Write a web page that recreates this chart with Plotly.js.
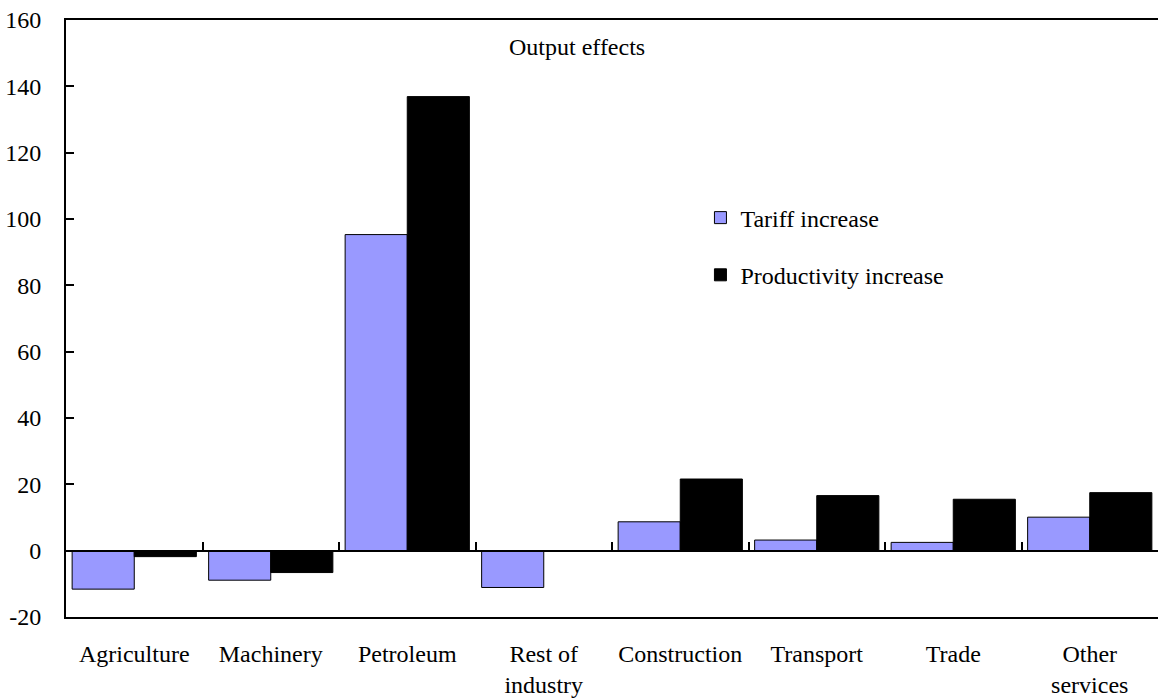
<!DOCTYPE html>
<html>
<head>
<meta charset="utf-8">
<script src="https://cdn.plot.ly/plotly-3.0.1.min.js"></script>
<style>html,body{margin:0;padding:0;background:#fff;}#chart{width:1158px;height:700px;}</style>
</head>
<body>
<div id="chart"></div>
<script>
const categories = ["Agriculture", "Machinery", "Petroleum", "Rest of<br>industry", "Construction", "Transport", "Trade", "Other<br>services"];
const tariffIncrease = [-11.6, -8.9, 95.3, -11.1, 8.7, 3.2, 2.5, 10.1];
const productivityIncrease = [-1.8, -6.6, 136.9, 0, 21.6, 16.6, 15.5, 17.5];
const yTicks = [-20, 0, 20, 40, 60, 80, 100, 120, 140, 160];
const chartTitle = "Output effects";

const FONT = "'Liberation Serif', 'Times New Roman', serif";

const traces = [
  {
    type: "bar", name: "Tariff increase", x: categories, y: tariffIncrease,
    marker: {color: "#9999FF", line: {color: "#000000", width: 1}},
    legendgroup: "a", xaxis: "x", yaxis: "y", hoverinfo: "skip"
  },
  {
    type: "bar", name: "Productivity increase", x: categories, y: productivityIncrease,
    marker: {color: "#000000", line: {color: "#000000", width: 1}},
    legendgroup: "b", xaxis: "x", yaxis: "y", hoverinfo: "skip"
  },
  {
    type: "scatter", mode: "none", x: categories, y: tariffIncrease.map(() => null),
    xaxis: "x2", yaxis: "y", showlegend: false, hoverinfo: "skip"
  }
];

const layout = {
  width: 1158, height: 700,
  margin: {l: 66, r: 0, t: 20, b: 83, pad: 0},
  paper_bgcolor: "#fff", plot_bgcolor: "#fff",
  font: {family: FONT, size: 24, color: "#000"},
  barmode: "group", bargap: 0.09, bargroupgap: 0,
  showlegend: true,
  legend: {
    x: 0.581, y: 0.706, xanchor: "left", yanchor: "top",
    bgcolor: "rgba(0,0,0,0)", borderwidth: 0,
    traceorder: "grouped", tracegroupgap: 23,
    font: {family: FONT, size: 24, color: "#000"}
  },
  xaxis: {
    type: "category", anchor: "free", position: 20/180,
    showline: true, linecolor: "#000", linewidth: 2,
    ticks: "inside", tickson: "boundaries", ticklen: 8, tickwidth: 2, tickcolor: "#000",
    showticklabels: false, showgrid: false, zeroline: false, fixedrange: true
  },
  xaxis2: {
    type: "category", matches: "x", overlaying: "x", anchor: "y", side: "bottom",
    showline: true, linecolor: "#000", linewidth: 2, mirror: true,
    ticks: "", showgrid: false, zeroline: false,
    tickfont: {family: FONT, size: 24, color: "#000"},
    ticklabelstandoff: 14
  },
  yaxis: {
    range: [-20, 160], tickvals: yTicks, ticktext: yTicks.map(String),
    showline: true, linecolor: "#000", linewidth: 2,
    ticks: "inside", ticklen: 8, tickwidth: 2, tickcolor: "#000",
    showgrid: false, zeroline: false,
    tickfont: {family: FONT, size: 24, color: "#000"},
    ticklabelstandoff: 18
  },
  annotations: [{
    text: chartTitle, xref: "paper", yref: "paper", x: 0.468, y: 0.955,
    xanchor: "center", yanchor: "middle", showarrow: false,
    font: {family: FONT, size: 24, color: "#000"}
  }]
};

Plotly.newPlot("chart", traces, layout, {staticPlot: true, displayModeBar: false});
</script>
</body>
</html>
